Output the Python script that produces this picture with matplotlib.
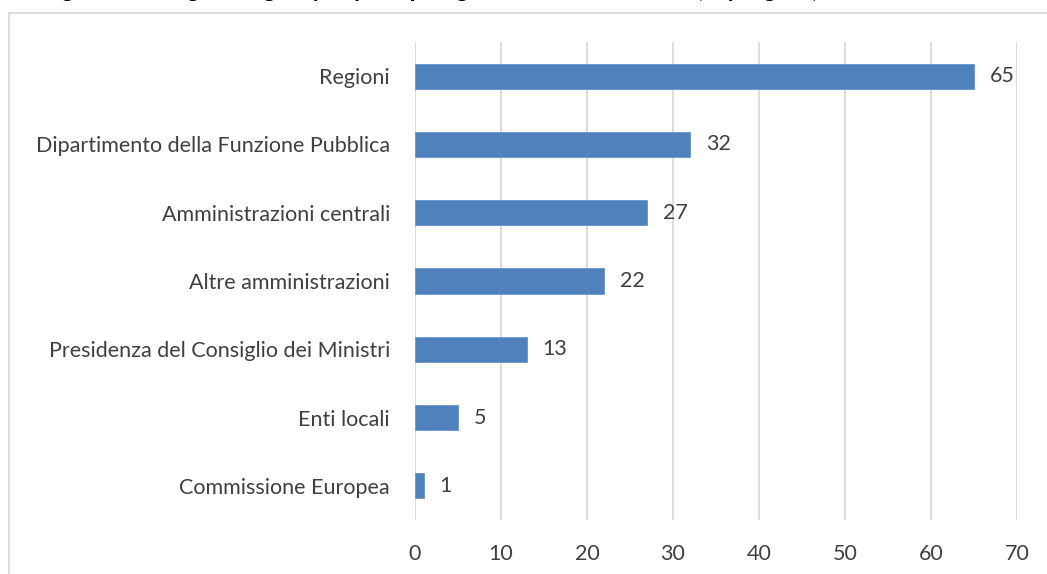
import matplotlib.pyplot as plt
from matplotlib.patches import Rectangle

categorie = ["Regioni", "Dipartimento della Funzione Pubblica", "Amministrazioni centrali",
             "Altre amministrazioni", "Presidenza del Consiglio dei Ministri", "Enti locali",
             "Commissione Europea"]
valori = [65, 32, 27, 22, 13, 5, 1]
ticks_x = [0, 10, 20, 30, 40, 50, 60, 70]

plt.rcParams['font.family'] = ['Lato', 'DejaVu Sans']
grigio = "#404040"

fig = plt.figure(figsize=(10.47, 5.74), dpi=100)
W, H = 1047, 574

# cornice del grafico (tagliata a destra e in basso)
fig.patches.append(Rectangle((9 / W, -0.1), 1.2, 1.1 - 13 / H, transform=fig.transFigure,
                             fill=False, edgecolor="#d9d9d9", linewidth=1.3))

# titolo tagliato in alto: si vedono solo le code delle lettere
fig.text(0.04, 1 + 3 / H, "Figura 2 – Origine degli input per tipologia di amministrazione (n. progetti)",
         fontsize=17, fontweight="bold", va="baseline", ha="left", color="black")

ax = fig.add_axes([415 / W, 1 - 520 / H, (1017 - 415) / W, (520 - 42) / H])
pos = list(range(len(categorie)))[::-1]
ax.barh(pos, valori, height=0.37, color="#4F81BD", edgecolor="#6a96cc", linewidth=0.6, zorder=3)
for p, v in zip(pos, valori):
    ax.text(v + 1.8, p, str(v), va="center", ha="left", fontsize=15.5, color=grigio)

ax.set_xlim(0, 70)
ax.set_ylim(-0.5, len(categorie) - 0.5)
ax.set_xticks(ticks_x)
ax.set_yticks(pos)
ax.set_yticklabels(categorie)
ax.tick_params(axis="both", length=0, labelsize=15.5, labelcolor=grigio)
ax.tick_params(axis="x", pad=17)
ax.tick_params(axis="y", pad=18)
ax.grid(axis="x", color="#d9d9d9", linewidth=1.3, zorder=0)
for s in ax.spines.values():
    s.set_visible(False)

plt.savefig("out.png", dpi=100)
